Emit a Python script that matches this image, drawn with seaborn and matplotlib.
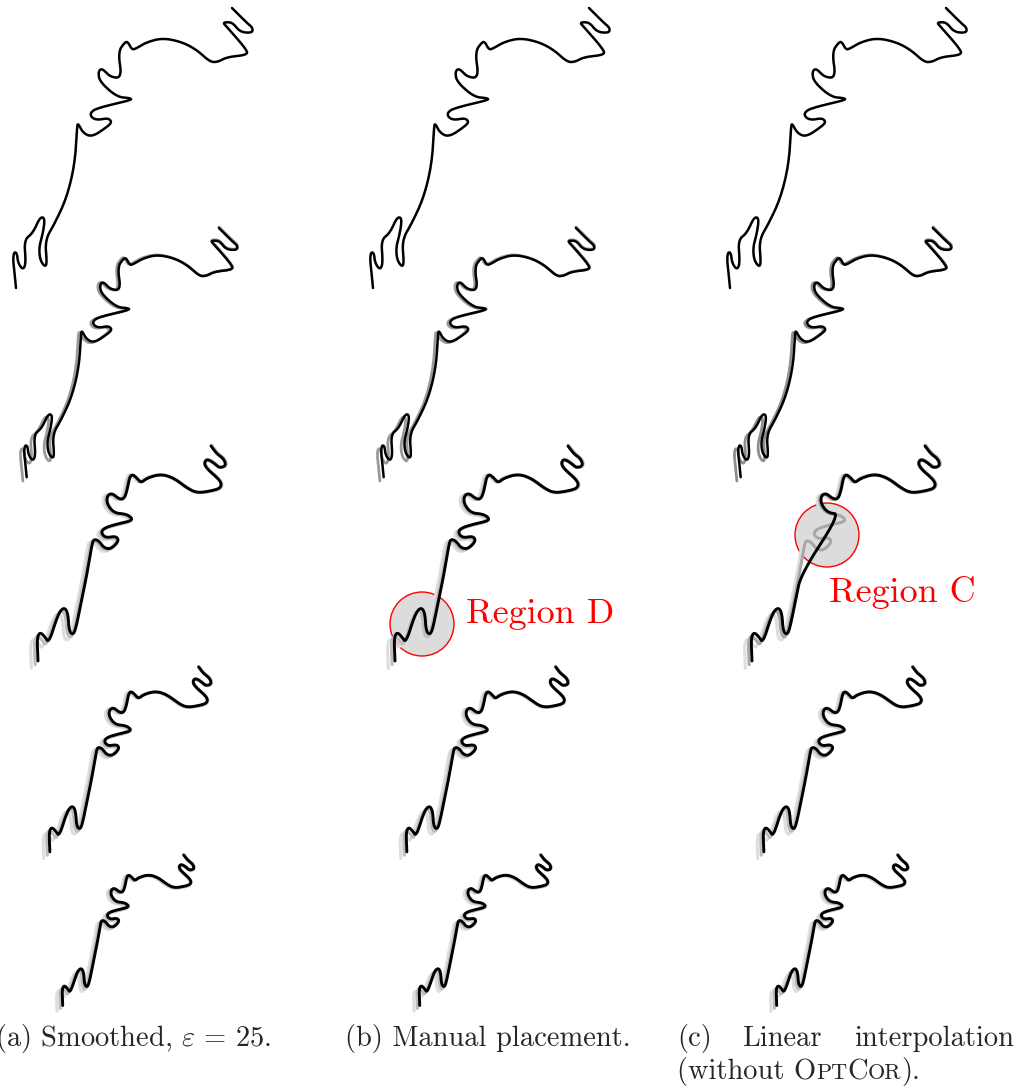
import numpy as np
import pandas as pd
import matplotlib
matplotlib.use("Agg")
import matplotlib.pyplot as plt
import seaborn as sns
from matplotlib.patches import Circle

# river outline (pixels)
raw_x = [16, 15, 13, 14, 17, 18, 23, 26, 24, 33, 40, 45, 43, 39, 40, 45, 47, 45, 55, 67,
         75, 77, 78, 83, 92, 107, 112, 108, 98, 92, 90, 97, 132, 130, 117, 100, 98, 102,
         110, 122, 118, 125, 128, 132, 137, 147, 163, 182, 197, 210, 218, 227, 247, 247,
         227, 223, 227, 233, 240, 252, 253, 247, 232]
raw_y = [288, 277, 260, 252, 253, 263, 270, 263, 240, 233, 217, 218, 233, 247, 260, 267,
         263, 240, 223, 197, 163, 127, 123, 133, 137, 127, 122, 118, 120, 118, 113, 108,
         100, 98, 97, 82, 72, 68, 77, 78, 52, 42, 42, 50, 48, 42, 38, 42, 50, 62, 62, 57,
         55, 50, 27, 23, 22, 23, 32, 33, 28, 23, 8]

# smoother outline traced from the third row
smooth_x = [394, 393, 396, 401, 405, 414, 420, 424, 425, 429, 432, 438, 443, 448, 450, 455,
            460, 467, 475, 472, 462, 457, 460, 473, 487, 488, 482, 470, 463, 463, 468, 475,
            480, 483, 485, 488, 493, 497, 503, 517, 530, 543, 553, 567, 577, 577, 563, 560,
            563, 570, 575, 582, 580, 573, 567]
smooth_y = [660, 637, 631, 636, 642, 613, 606, 612, 630, 634, 627, 597, 573, 543, 538, 540,
            547, 548, 540, 535, 537, 532, 527, 523, 520, 517, 513, 512, 503, 495, 492, 498,
            498, 490, 478, 473, 477, 482, 477, 473, 477, 487, 492, 490, 487, 480, 468, 462,
            458, 462, 467, 465, 458, 453, 445]

# hook that linear interpolation cuts straight through (smooth outline indices)
cut_hook = list(range(13, 26))

captions = ["(a) Smoothed, $\\varepsilon\\,=\\,25$.", "(b) Manual placement."]
regions = ["Region D", "Region C"]

# layout of the rows (pixels)
row_shape = ["raw", "raw", "smooth", "smooth", "smooth"]
row_scale = [1.0, 0.89, 1.0, 0.86, 0.70]
row_left = [13, 24, 37, 49, 62]
row_top = [8, 228, 446, 667, 855]
col_shift = [0, 357, 714]


def chaikin(p, n=3):
    for _ in range(n):
        q = 0.75 * p[:-1] + 0.25 * p[1:]
        r = 0.25 * p[:-1] + 0.75 * p[1:]
        new = np.empty((2 * len(q), 2))
        new[0::2] = q
        new[1::2] = r
        p = np.vstack([p[:1], new, p[-1:]])
    return p


def place(xs, ys, scale, left, top, grow=1.0, drop=()):
    p = np.column_stack([xs, ys]).astype(float)
    x0, y0 = p[:, 0].min(), p[:, 1].min()
    p = (p - [x0, y0]) * scale
    c = p.mean(axis=0)
    p = (p - c) * grow + c + [left, top]
    if drop:
        keep = [i for i in range(len(p)) if i not in drop]
        p = p[keep]
    return chaikin(p)


def draw(ax, p, color, lw, z):
    df = pd.DataFrame({"x": p[:, 0], "y": p[:, 1]})
    sns.lineplot(data=df, x="x", y="y", sort=False, estimator=None, color=color,
                 linewidth=lw, ax=ax, zorder=z, solid_capstyle="round")


sns.set_style("white")
plt.rcParams["mathtext.fontset"] = "cm"
fig = plt.figure(figsize=(10.19, 10.91), dpi=100)
ax = fig.add_axes([0, 0, 1, 1])
ax.set_xlim(0, 1019)
ax.set_ylim(1091, 0)
ax.axis("off")

shapes = {"raw": (raw_x, raw_y), "smooth": (smooth_x, smooth_y)}

for ci, shift in enumerate(col_shift):
    for ri in range(5):
        xs, ys = shapes[row_shape[ri]]
        s = row_scale[ri]
        left = row_left[ri] + shift
        top = row_top[ri]
        if ri == 1:
            g = "#8f8f8f" if ci == 2 else "#9a9a9a"
            draw(ax, place(xs, ys, s, left - 2, top + 1, 1.02), g, 2.0, 2)
        elif ri >= 2:
            draw(ax, place(xs, ys, s, left - 3, top + 2, 1.04), "#dedede", 2.2, 2)
            g = "#a8a8a8" if (ci == 2 and ri == 2) else "#bdbdbd"
            draw(ax, place(xs, ys, s, left - 1, top + 1, 1.02), g, 2.2, 3)
        drop = cut_hook if (ci == 2 and ri == 2) else ()
        lw = 1.8 if ri < 2 else 2.1
        draw(ax, place(xs, ys, s, left, top, 1.0, drop), "black", lw, 4)

# highlighted regions
for (cx, cy) in [(422, 624), (827, 535)]:
    ax.add_patch(Circle((cx, cy), 32, facecolor="#dcdcdc", edgecolor="red",
                        linewidth=1.0, zorder=1))
ax.text(466, 623, regions[0], color="red", fontsize=26, family="cmr10", va="baseline")
ax.text(829, 602, regions[1], color="red", fontsize=26, family="cmr10", va="baseline")

fs = 20.5
ax.text(-5, 1046, captions[0], fontsize=fs, family="cmr10", va="baseline")
ax.text(345, 1046, captions[1], fontsize=fs, family="cmr10", va="baseline")
ax.text(677, 1046, "(c)", fontsize=fs, family="cmr10", va="baseline")
ax.text(742, 1046, "Linear", fontsize=fs, family="cmr10", va="baseline")
ax.text(1014, 1046, "interpolation", fontsize=fs, family="cmr10", va="baseline", ha="right")

# second caption line with small caps
renderer = fig.canvas.get_renderer()
x = 677
for part, size in [("(without O", fs), ("PT", fs * 0.78), ("C", fs), ("OR", fs * 0.78), (").", fs)]:
    t = ax.text(x, 1079, part, fontsize=size, family="cmr10", va="baseline")
    x += t.get_window_extent(renderer).width

fig.savefig("out.png", dpi=100)
